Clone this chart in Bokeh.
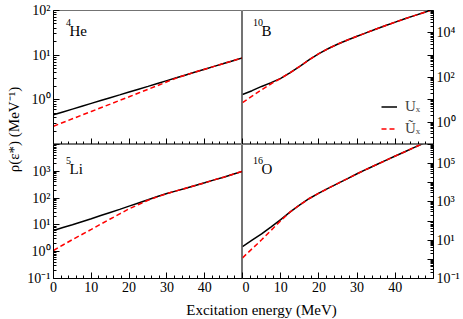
import math
from bokeh.plotting import figure
from bokeh.layouts import row, column
from bokeh.models import (FixedTicker, CustomJSTickFormatter, CustomLabelingPolicy,
                          Label, Legend, LegendItem, Range1d)
from bokeh.embed import file_html
from bokeh.resources import INLINE

FONT = "Liberation Serif"

# ---------------- data ----------------
energy = [0, 2.5, 5, 7.5, 10, 12.5, 15, 17.5, 20, 22.5, 25,
          27.5, 30, 32.5, 35, 37.5, 40, 42.5, 45, 47.5, 50]          # MeV

he4_ux = [0.462, 0.535, 0.620, 0.718, 0.832, 0.963, 1.115, 1.29, 1.50, 1.73, 2.00,
          2.32, 2.69, 3.12, 3.61, 4.18, 4.84, 5.61, 6.49, 7.52, 8.71]
he4_ut = [0.257, 0.311, 0.376, 0.455, 0.55, 0.665, 0.80, 0.97, 1.17, 1.42, 1.72,
          2.08, 2.54, 3.07, 3.61, 4.18, 4.84, 5.61, 6.49, 7.52, 8.71]

b10_ux = [17.4, 25.7, 39.8, 58.9, 91.2, 166, 316, 631, 1175, 1995, 3162,
          4786, 7079, 10233, 14791, 21380, 30200, 42658, 58884, 81283, 112202]
b10_ut = [7.41, 14.5, 28.2, 52.5, 91.2, 166, 316, 631, 1175, 1995, 3162,
          4786, 7079, 10233, 14791, 21380, 30200, 42658, 58884, 81283, 112202]

li5_ux = [6.17, 7.94, 10.2, 13.2, 17.0, 22.4, 29.2, 38.0, 50.1, 66.1, 87.1,
          115, 148, 186, 234, 295, 372, 479, 603, 776, 1000]
li5_ut = [1.11, 1.78, 2.82, 4.37, 6.76, 10.7, 16.6, 25.7, 39.8, 57.5, 83.2,
          112, 148, 186, 234, 295, 372, 479, 603, 776, 1000]

o16_ux = [4.68, 10.0, 21.4, 50.1, 120, 302, 708, 1514, 2884, 5248, 9333,
          16600, 29512, 51286, 87096, 147911, 251189, 416869, 707946, 1174898, 1995262]
o16_ut = [1.2, 3.55, 10.5, 33.1, 105, 302, 708, 1514, 2884, 5248, 9333,
          16600, 29512, 51286, 87096, 147911, 251189, 416869, 707946, 1174898, 1995262]

mass_numbers = ["4", "10", "5", "16"]
elements = ["He", "B", "Li", "O"]
legend_labels = ["U\u2093", "\u0168\u2093"]

x_ticks = [0, 10, 20, 30, 40]
x_minor = [m for m in range(2, 50, 2) if m % 10 != 0]

# decades spanned by each panel, and the decades that carry a label
he4_decades, he4_labels = [-1, 2], [0, 1, 2]
b10_decades, b10_labels = [-1, 5], [0, 2, 4]
li5_decades, li5_labels = [-1, 4], [-1, 0, 1, 2, 3]
o16_decades, o16_labels = [-1, 6], [-1, 1, 3, 5]

x_title = "Excitation energy (MeV)"
y_title = "\u03c1(\u03b5*) (MeV\u207b\u00b9)"

# ---------------- layout geometry ----------------
FW, FH = 191, 134           # frame size of each panel
LB, RB = 27, 30             # left / right borders (tick labels)
TOP, BOT = 10, 18
YLAB_W, XLAB_H = 24, 23

SUP_CODE = """
const sup = {"-": "\u207b", "0": "\u2070", "1": "\u00b9", "2": "\u00b2", "3": "\u00b3",
             "4": "\u2074", "5": "\u2075", "6": "\u2076", "7": "\u2077", "8": "\u2078", "9": "\u2079"};
const e = Math.round(Math.log10(tick));
let s = "10";
for (const c of String(e)) s += sup[c];
return s;
"""

POLICY_CODE = """
const result = new Set();
for (const i of indices) {
    if (show.includes(lo + i)) result.add(i);
}
return result;
"""


def style_axis(ax, labels=True):
    ax.major_tick_in = 6
    ax.major_tick_out = 0
    ax.minor_tick_in = 3
    ax.minor_tick_out = 0
    ax.axis_line_color = "black"
    ax.major_tick_line_color = "black"
    ax.minor_tick_line_color = "black"
    ax.major_label_text_font = FONT
    ax.major_label_text_color = "black"
    if labels:
        ax.major_label_text_font_size = "14px"
        ax.major_label_standoff = 3
    else:
        ax.major_label_text_font_size = "0px"
        ax.major_label_standoff = 0
        ax.major_label_policy = CustomLabelingPolicy(code="return new Set();")


def panel(ux, ut, decades, labels, mass, elem, side, bottom_row, legend=False):
    lo, hi = decades
    w = FW + (LB if side == "left" else RB)
    h = FH + (BOT if bottom_row else TOP)
    p = figure(width=w, height=h, x_range=Range1d(0, 50),
               y_range=Range1d(10.0 ** lo, 10.0 ** hi), y_axis_type="log",
               y_axis_location=side, output_backend="svg", toolbar_location=None,
               min_border_left=LB if side == "left" else 0,
               min_border_right=RB if side == "right" else 0,
               min_border_top=0 if bottom_row else TOP,
               min_border_bottom=BOT if bottom_row else 0)
    p.xgrid.visible = False
    p.ygrid.visible = False
    p.outline_line_color = "black"
    p.outline_line_alpha = 0.55
    p.outline_line_width = 1
    p.background_fill_color = "white"
    p.border_fill_color = "white"

    p.xaxis.ticker = FixedTicker(ticks=x_ticks, minor_ticks=x_minor)
    style_axis(p.xaxis[0], labels=bottom_row)

    majors = [10.0 ** e for e in range(lo, hi + 1)]
    minors = [k * 10.0 ** e for e in range(lo, hi) for k in range(2, 10)]
    p.yaxis.ticker = FixedTicker(ticks=majors, minor_ticks=minors)
    p.yaxis.formatter = CustomJSTickFormatter(code=SUP_CODE)
    style_axis(p.yaxis[0], labels=True)
    p.yaxis.major_label_policy = CustomLabelingPolicy(args=dict(show=labels, lo=lo),
                                                      code=POLICY_CODE)

    r1 = p.line(energy, ux, line_color="black", line_width=1.5)
    r2 = p.line(energy, ut, line_color="red", line_width=1.5, line_dash="5 3")

    base = FH - (20 if not bottom_row else 24)
    sym_x = 14 + 3 * len(mass)
    p.add_layout(Label(x=sym_x + 0.5, y=base + 8, x_units="screen", y_units="screen",
                       text=mass, text_font=FONT, text_font_size="10px",
                       text_color="black", text_align="right",
                       text_baseline="alphabetic"))
    p.add_layout(Label(x=sym_x - 1, y=base, x_units="screen", y_units="screen",
                       text=elem, text_font=FONT, text_font_size="15px",
                       text_color="black", text_align="left",
                       text_baseline="alphabetic"))
    if legend:
        lg = Legend(items=[LegendItem(label=legend_labels[0], renderers=[r1]),
                           LegendItem(label=legend_labels[1], renderers=[r2])],
                    location=(139, 7), border_line_color=None,
                    background_fill_alpha=0, padding=0, margin=0, spacing=5,
                    glyph_width=16, glyph_height=15, label_height=15,
                    label_standoff=8, label_text_font=FONT,
                    label_text_font_size="15px")
        p.add_layout(lg)
    return p


p_tl = panel(he4_ux, he4_ut, he4_decades, he4_labels, mass_numbers[0], elements[0],
             "left", False)
p_tr = panel(b10_ux, b10_ut, b10_decades, b10_labels, mass_numbers[1], elements[1],
             "right", False, legend=True)
p_bl = panel(li5_ux, li5_ut, li5_decades, li5_labels, mass_numbers[2], elements[2],
             "left", True)
p_br = panel(o16_ux, o16_ut, o16_decades, o16_labels, mass_numbers[3], elements[3],
             "right", True)

total_h = TOP + 2 * FH + BOT + XLAB_H
total_w_panels = 2 * FW + LB + RB


def blank(w, h):
    b = figure(width=w, height=h, x_range=Range1d(0, 1), y_range=Range1d(0, 1),
               output_backend="svg", toolbar_location=None,
               x_axis_location=None, y_axis_location=None, min_border=0)
    b.xgrid.visible = False
    b.ygrid.visible = False
    b.outline_line_color = None
    return b


ylab = blank(YLAB_W, total_h)
ylab.add_layout(Label(x=13, y=total_h - 129, x_units="screen", y_units="screen",
                      text=y_title, angle=math.pi / 2, text_align="center",
                      text_baseline="middle", text_font=FONT,
                      text_font_size="15px", text_color="black"))

xlab = blank(total_w_panels, XLAB_H)
xlab.add_layout(Label(x=237, y=10, x_units="screen", y_units="screen",
                      text=x_title, text_align="center", text_baseline="middle",
                      text_font=FONT, text_font_size="15px", text_color="black"))

layout = row(ylab, column(row(p_tl, p_tr), row(p_bl, p_br), xlab))

open("out.html", "w").write(file_html(layout, INLINE))
